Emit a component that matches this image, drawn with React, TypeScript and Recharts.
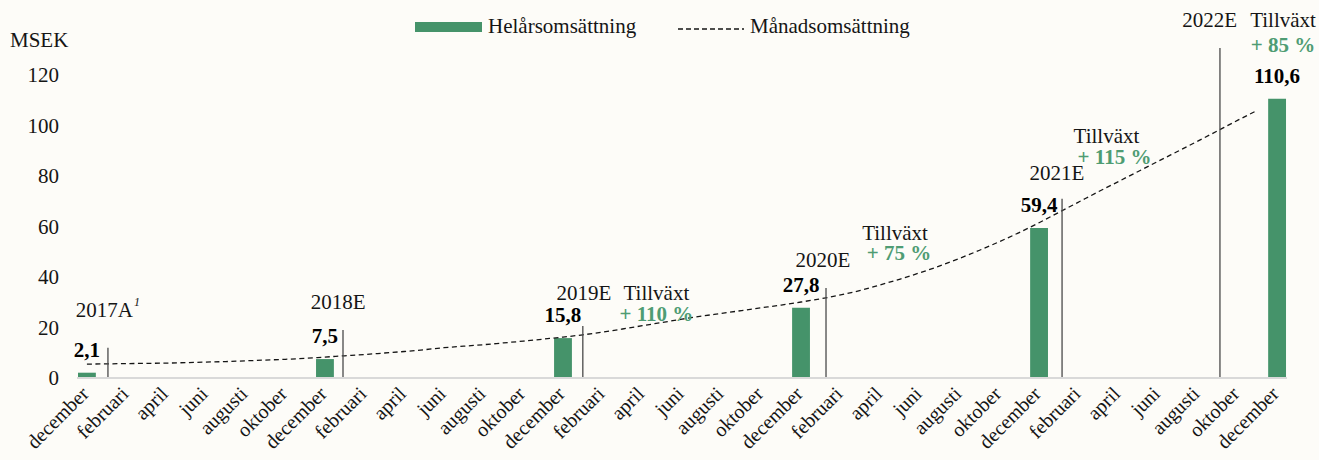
import React from 'react';
import {
  ComposedChart,
  Bar,
  Line,
  XAxis,
  YAxis,
  ReferenceLine,
  ReferenceDot,
  LabelList,
  Legend,
} from 'recharts';

document.body.style.margin = '0';
document.body.style.background = '#fdfcf8';

const FONT = '"Liberation Serif", "Times New Roman", serif';
const GREEN = '#45936a';
const GROWTH_GREEN = '#4f9c73';
const INK = '#151515';

// x runs month by month, december 2017 (0) to december 2022 (60)
const tickLabels = [
  'december', 'februari', 'april', 'juni', 'augusti', 'oktober',
  'december', 'februari', 'april', 'juni', 'augusti', 'oktober',
  'december', 'februari', 'april', 'juni', 'augusti', 'oktober',
  'december', 'februari', 'april', 'juni', 'augusti', 'oktober',
  'december', 'februari', 'april', 'juni', 'augusti', 'oktober',
  'december',
];

const annualMonth = [0, 12, 24, 36, 48, 60];
const annualRevenue = [2.1, 7.5, 15.8, 27.8, 59.4, 110.6];

// Månadsomsättning (annualised)
const monthlyRevenue = [
  5.5, 5.6, 5.7, 5.8, 5.9, 6.1, 6.3, 6.5, 6.8, 7.1, 7.4, 7.8,
  8.3, 8.8, 9.3, 9.9, 10.5, 11.2, 12.0, 12.6, 13.2, 13.9, 14.6, 15.4,
  16.2, 17.1, 18.2, 19.4, 20.7, 22.0, 23.3, 24.5, 25.6, 26.7, 27.8, 28.9,
  30.1, 31.4, 32.9, 34.7, 36.9, 39.2, 41.7, 44.4, 47.4, 50.6, 54.0, 57.6,
  61.5, 65.6, 69.7, 73.8, 77.8, 81.8, 85.8, 89.8, 93.8, 97.9, 102.0, 106.0,
];

const yearNames = ['2017A', '2018E', '2019E', '2020E', '2021E', '2022E'];
const growthPct = [null, null, 110, 75, 115, 85];

// year separator lines: month position and top value
const markerMonth = [1.06, 12.91, 25.0, 37.26, 49.16, 57.12];
const markerTop = [12, 19, 20.6, 35.6, 71, 130.7];

// annotation anchors (month, value)
const yearLabelAt: [number, number][] = [
  [1.06, 24.2], [12.66, 27.3], [25.06, 30.9], [37.11, 44.0], [48.9, 78.4], [56.6, 139.0],
];
const growthLabelAt: ([number, number] | null)[] = [
  null, null, [28.71, 30.9], [40.74, 54.7], [51.4, 93.1], [60.3, 139.0],
];

const yTicks = [0, 20, 40, 60, 80, 100, 120];
const xTicks = tickLabels.map((_, i) => i * 2);

const data = tickLabels.concat(tickLabels).slice(0, 61).map((_, i) => {
  const k = annualMonth.indexOf(i);
  return {
    m: i,
    annual: k >= 0 ? annualRevenue[k] : null,
    monthly: i < monthlyRevenue.length ? monthlyRevenue[i] : null,
  };
});

const fmt = (v: number) => v.toFixed(1).replace('.', ',');

// pct line offset under "Tillväxt"
const pctShift: Record<number, [number, number]> = {
  2: [0, 21],
  3: [4, 20],
  4: [8, 21],
  5: [0, 25],
};

function MonthTick({ x, y, payload }: any) {
  const label = tickLabels[Math.round(payload.value / 2)];
  return (
    <text
      transform={`translate(${x + 3},${y + 17}) rotate(-45)`}
      textAnchor="end"
      fontFamily={FONT}
      fontSize={20}
      fill={INK}
    >
      {label}
    </text>
  );
}

function LegendBox() {
  return (
    <svg width={1319} height={50} style={{ display: 'block' }}>
      <rect x={415} y={22} width={67} height={10} fill={GREEN} />
      <text x={488} y={33} fontFamily={FONT} fontSize={21} fill={INK}>
        Helårsomsättning
      </text>
      <line x1={678} y1={29} x2={744} y2={29} stroke={INK} strokeWidth={1.3} strokeDasharray="5 3" />
      <text x={750} y={33} fontFamily={FONT} fontSize={21} fill={INK}>
        Månadsomsättning
      </text>
    </svg>
  );
}

export default function App() {
  return (
    <div style={{ width: 1319, height: 460, background: '#fdfcf8' }}>
      <ComposedChart
        width={1319}
        height={460}
        data={data}
        margin={{ top: 24.5, right: 32, bottom: 12, left: 17 }}
      >
        <XAxis
          type="number"
          dataKey="m"
          domain={[-0.5, 60.5]}
          ticks={xTicks}
          interval={0}
          tick={<MonthTick />}
          tickLine={false}
          tickSize={0}
          tickMargin={0}
          height={70}
          axisLine={{ stroke: '#d9d9d9', strokeWidth: 2 }}
          allowDataOverflow
        />
        <YAxis
          domain={[0, 140]}
          ticks={yTicks}
          axisLine={false}
          tickLine={false}
          tickSize={0}
          tickMargin={18}
          width={60}
          tick={{ fontFamily: FONT, fontSize: 21, fill: INK }}
          label={{
            content: ({ viewBox }: any) => (
              <text x={viewBox.x - 7} y={viewBox.y + 22} fontFamily={FONT} fontSize={21} fill={INK}>
                MSEK
              </text>
            ),
          }}
        />
        <Legend
          layout="horizontal"
          verticalAlign="middle"
          align="center"
          wrapperStyle={{ top: 0, left: 0, width: 1319, height: 50 }}
          content={() => <LegendBox />}
        />
        <Bar dataKey="annual" name="Helårsomsättning" fill={GREEN} barSize={20} isAnimationActive={false}>
          <LabelList
            dataKey="annual"
            content={(p: any) =>
              p.value == null ? null : (
                <text
                  x={p.x + p.width / 2}
                  y={p.y - 16}
                  textAnchor="middle"
                  fontFamily={FONT}
                  fontSize={21}
                  fontWeight="bold"
                  fill="#000"
                >
                  {fmt(p.value)}
                </text>
              )
            }
          />
        </Bar>
        <Line
          dataKey="monthly"
          name="Månadsomsättning"
          type="monotone"
          stroke={INK}
          strokeWidth={1.3}
          strokeDasharray="5 3.5"
          dot={false}
          activeDot={false}
          isAnimationActive={false}
        />
        {markerMonth.map((mx, i) => (
          <ReferenceLine
            key={`sep-${i}`}
            segment={[{ x: mx, y: 0 }, { x: mx, y: markerTop[i] }]}
            stroke="#4a4a4a"
            strokeWidth={1.3}
          />
        ))}
        {yearLabelAt.map(([mx, v], i) => (
          <ReferenceDot
            key={`year-${i}`}
            x={mx}
            y={v}
            r={0}
            shape={(p: any) => (
              <text x={p.cx} y={p.cy} textAnchor="middle" fontFamily={FONT} fontSize={21} fill={INK}>
                {yearNames[i]}
                {i === 0 ? (
                  <tspan dx={1} dy={-11} fontSize={12} fontStyle="italic">
                    1
                  </tspan>
                ) : null}
              </text>
            )}
          />
        ))}
        {growthLabelAt.map((a, i) =>
          a == null ? null : (
            <ReferenceDot
              key={`growth-${i}`}
              x={a[0]}
              y={a[1]}
              r={0}
              shape={(p: any) => (
                <g>
                  <text x={p.cx} y={p.cy} textAnchor="middle" fontFamily={FONT} fontSize={21} fill={INK}>
                    Tillväxt
                  </text>
                  <text
                    x={p.cx + pctShift[i][0]}
                    y={p.cy + pctShift[i][1]}
                    textAnchor="middle"
                    fontFamily={FONT}
                    fontSize={21}
                    fontWeight="bold"
                    fill={GROWTH_GREEN}
                  >
                    {`+ ${growthPct[i]} %`}
                  </text>
                </g>
              )}
            />
          ),
        )}
      </ComposedChart>
    </div>
  );
}
